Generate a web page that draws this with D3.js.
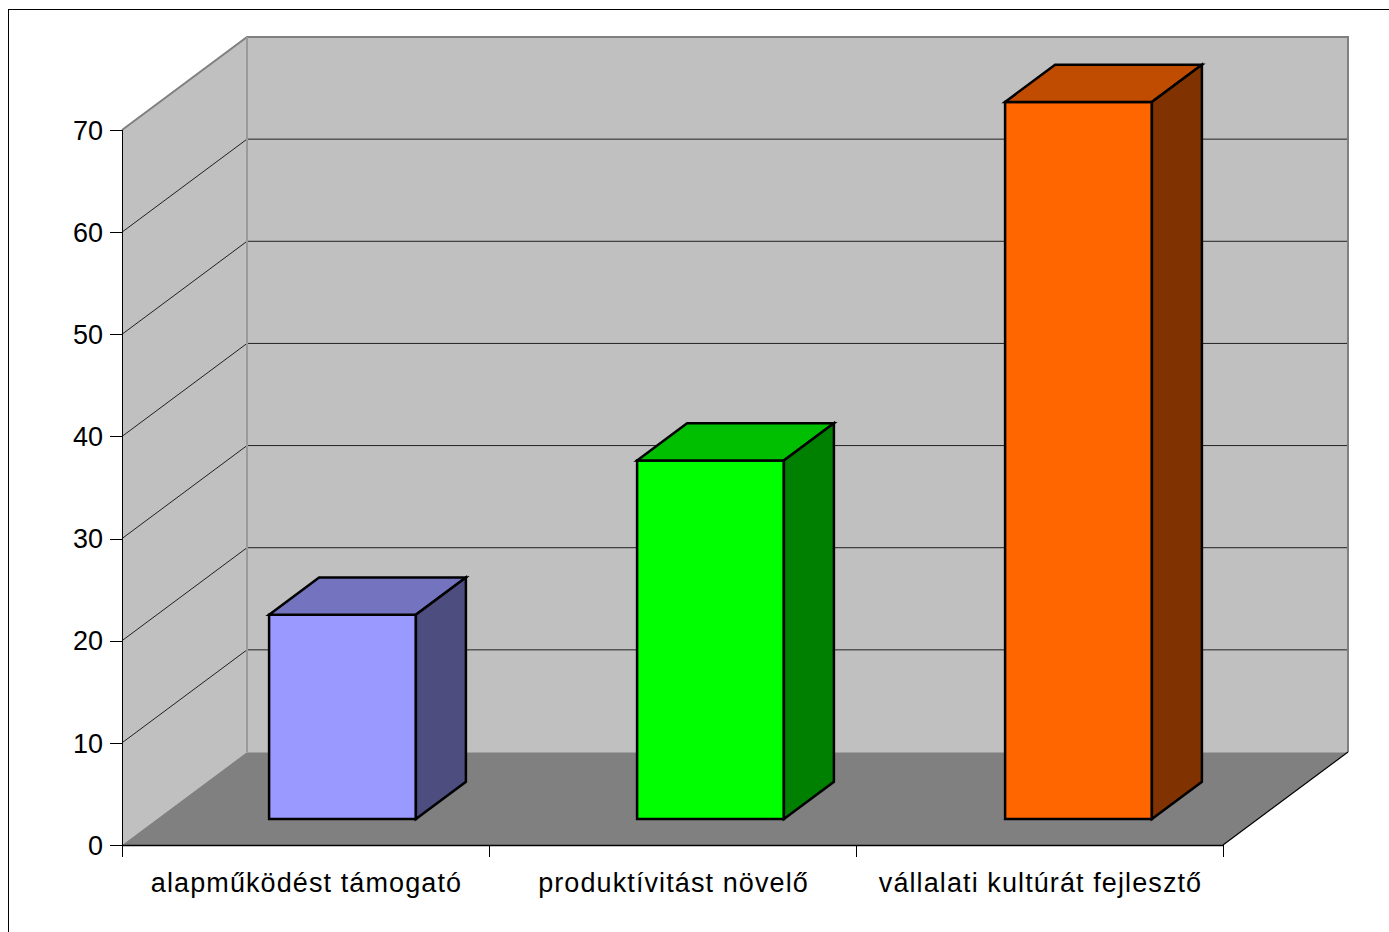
<!DOCTYPE html>
<html>
<head>
<meta charset="utf-8">
<script src="https://cdn.jsdelivr.net/npm/d3@7"></script>
<style>
  body { margin: 0; background: #fff; }
  svg text { font-family: "Liberation Sans", Arial, sans-serif; fill: #000; }
</style>
</head>
<body>
<div id="chart"></div>
<script>
var categories = ["alapműködést támogató", "produktívitást növelő", "vállalati kultúrát fejlesztő"];
var values = [20, 35.1, 70.2];
var yTicks = [0, 10, 20, 30, 40, 50, 60, 70];
var frontColors = ["#9999ff", "#00ff00", "#ff6600"];
var topColors = ["#7373bf", "#00bf00", "#bf4c00"];
var sideColors = ["#4d4d80", "#008000", "#803300"];

var width = 1389, height = 932;

var svg = d3.select("#chart").append("svg")
    .attr("width", width)
    .attr("height", height);

// outer frame (goes past the picture on right/bottom)
svg.append("rect")
    .attr("x", 8.5).attr("y", 9.5)
    .attr("width", 1420).attr("height", 960)
    .attr("fill", "none").attr("stroke", "#000").attr("stroke-width", 1);

var x = d3.scaleBand()
    .domain(categories)
    .range([122, 1223])
    .paddingInner(0.6)
    .paddingOuter(0.3);

var y = d3.scaleLinear().domain([0, 70]).range([845, 130]);

// depth: 0 = front, 1 = back wall
var dx = d3.scaleLinear().domain([0, 1]).range([0, 125]);
var dy = d3.scaleLinear().domain([0, 1]).range([0, -93]);

function pt(px, v, z) { return [px + dx(z), y(v) + dy(z)]; }
function poly(pts) { return "M" + pts.map(function(p) { return p.join(","); }).join("L") + "Z"; }

var x0 = x.range()[0], x1 = x.range()[1];
var vMax = y.domain()[1];

// walls
svg.append("path")
    .attr("d", poly([pt(x0, 0, 0), pt(x0, vMax, 0), pt(x0, vMax, 1), pt(x0, 0, 1)]))
    .attr("fill", "#c0c0c0");
svg.append("path")
    .attr("d", poly([pt(x0, 0, 1), pt(x0, vMax, 1), pt(x1, vMax, 1), pt(x1, 0, 1)]))
    .attr("fill", "#c0c0c0");
// floor
svg.append("path")
    .attr("d", poly([pt(x0, 0, 0), pt(x1, 0, 0), pt(x1, 0, 1), pt(x0, 0, 1)]))
    .attr("fill", "#808080");

// gridlines
var grid = yTicks.filter(function(t) { return t > 0 && t < vMax; });
svg.selectAll(".gridBack").data(grid).enter().append("line")
    .attr("x1", x0 + dx(1)).attr("x2", x1 + dx(1))
    .attr("y1", function(d) { return y(d) + dy(1); })
    .attr("y2", function(d) { return y(d) + dy(1); })
    .attr("stroke", "#202020").attr("stroke-width", 1);
svg.selectAll(".gridLeft").data(grid).enter().append("line")
    .attr("x1", x0).attr("x2", x0 + dx(1))
    .attr("y1", function(d) { return y(d); })
    .attr("y2", function(d) { return y(d) + dy(1); })
    .attr("stroke", "#202020").attr("stroke-width", 1);

// wall edges
svg.append("path")
    .attr("d", "M" + pt(x0, vMax, 0) + "L" + pt(x0, vMax, 1) + "L" + pt(x1, vMax, 1) + "L" + pt(x1, 0, 1))
    .attr("fill", "none").attr("stroke", "#808080").attr("stroke-width", 2);
svg.append("line")
    .attr("x1", x0 + dx(1)).attr("x2", x0 + dx(1))
    .attr("y1", y(vMax) + dy(1)).attr("y2", y(0) + dy(1))
    .attr("stroke", "#9a9a9a").attr("stroke-width", 2);
svg.append("line")
    .attr("x1", x0 + dx(1)).attr("x2", x1 + dx(1))
    .attr("y1", y(0) + dy(1) + 0.5).attr("y2", y(0) + dy(1) + 0.5)
    .attr("stroke", "#a0a0a0").attr("stroke-width", 1);
// floor right edge
svg.append("line")
    .attr("x1", x1).attr("y1", y(0))
    .attr("x2", x1 + dx(1)).attr("y2", y(0) + dy(1))
    .attr("stroke", "#000").attr("stroke-width", 1.2);

// bars
var zFront = 0.28, zDepth = 0.4;
var bars = svg.selectAll(".bar").data(values).enter().append("g").attr("class", "bar");
bars.each(function(v, i) {
    var g = d3.select(this);
    var l = x(categories[i]) + 2 + i, r = l + x.bandwidth();
    var zb = zFront + zDepth;
    g.append("path")
        .attr("d", poly([pt(l, 0, zFront), pt(r, 0, zFront), pt(r, v, zFront), pt(l, v, zFront)]))
        .attr("fill", frontColors[i]);
    g.append("path")
        .attr("d", poly([pt(l, v, zFront), pt(r, v, zFront), pt(r, v, zb), pt(l, v, zb)]))
        .attr("fill", topColors[i]);
    g.append("path")
        .attr("d", poly([pt(r, 0, zFront), pt(r, 0, zb), pt(r, v, zb), pt(r, v, zFront)]))
        .attr("fill", sideColors[i]);
    g.selectAll("path")
        .attr("stroke", "#000").attr("stroke-width", 2.5).attr("stroke-linejoin", "miter");
});

// y axis
svg.append("line")
    .attr("x1", x0 + 0.5).attr("x2", x0 + 0.5)
    .attr("y1", y(vMax)).attr("y2", y(0) + 12)
    .attr("stroke", "#000").attr("stroke-width", 1);
svg.selectAll(".ytick").data(yTicks).enter().append("line")
    .attr("x1", x0 - 12).attr("x2", x0)
    .attr("y1", function(d) { return Math.round(y(d)) + 0.5; })
    .attr("y2", function(d) { return Math.round(y(d)) + 0.5; })
    .attr("stroke", "#000").attr("stroke-width", 1);
svg.selectAll(".ylab").data(yTicks).enter().append("text")
    .attr("x", x0 - 19)
    .attr("y", function(d) { return y(d); })
    .attr("dy", "0.36em")
    .attr("text-anchor", "end")
    .style("font-size", "27px")
    .text(function(d) { return d; });

// x axis
svg.append("line")
    .attr("x1", x0).attr("x2", x1)
    .attr("y1", y(0) + 0.5).attr("y2", y(0) + 0.5)
    .attr("stroke", "#000").attr("stroke-width", 1.5);
var xTicks = categories.map(function(c) { return x(c) - x.step() * x.paddingInner() / 2; }).concat([x1]);
xTicks[0] = x0;
svg.selectAll(".xtick").data(xTicks).enter().append("line")
    .attr("x1", function(d) { return Math.round(d) + 0.5; })
    .attr("x2", function(d) { return Math.round(d) + 0.5; })
    .attr("y1", y(0)).attr("y2", y(0) + 12)
    .attr("stroke", "#000").attr("stroke-width", 1);
svg.selectAll(".xlab").data(categories).enter().append("text")
    .attr("x", function(d) { return x(d) + x.bandwidth() / 2 + 1; })
    .attr("y", 892)
    .attr("text-anchor", "middle")
    .style("font-size", "27px")
    .style("letter-spacing", "1.1px")
    .text(function(d) { return d; });
</script>
</body>
</html>
